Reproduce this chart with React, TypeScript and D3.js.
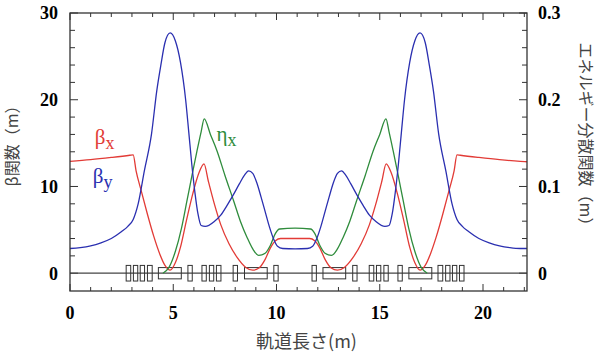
import { useMemo } from 'react';
import * as d3 from 'd3';

// orbit length s (m) and value
const betaX: [number, number][] = [
  [0, 12.9], [1, 13.1], [2, 13.35], [2.9, 13.6], [3.06, 13.65], [3.2, 11.8], [3.45, 9.5],
  [3.75, 6.8], [4.05, 4.3], [4.35, 2.2], [4.6, 0.9], [4.85, 0.35], [5.1, 1.2], [5.35, 3.0],
  [5.65, 6.2], [5.95, 9.2], [6.25, 11.6], [6.49, 12.6], [6.7, 10.6], [7.0, 7.9], [7.3, 5.6],
  [7.7, 3.4], [8.1, 1.8], [8.5, 0.7], [8.85, 0.35], [9.15, 0.6], [9.45, 1.6], [9.7, 2.9],
  [9.95, 3.75], [10.2, 4.0], [10.9, 4.0],
  [11.6, 4.0], [11.85, 3.75], [12.1, 2.9], [12.35, 1.6], [12.65, 0.6], [12.95, 0.35],
  [13.3, 0.7], [13.7, 1.8], [14.1, 3.4], [14.5, 5.6], [14.8, 7.9], [15.1, 10.6], [15.31, 12.6],
  [15.55, 11.6], [15.85, 9.2], [16.15, 6.2], [16.45, 3.0], [16.7, 1.2], [16.95, 0.35],
  [17.2, 0.9], [17.45, 2.2], [17.75, 4.3], [18.05, 6.8], [18.35, 9.5], [18.6, 11.8],
  [18.74, 13.65], [18.9, 13.6], [19.8, 13.35], [20.8, 13.1], [21.8, 12.9], [22.13, 12.85],
];

const betaY: [number, number][] = [
  [0, 2.85], [0.5, 2.95], [1, 3.15], [1.5, 3.5], [2, 4.0], [2.5, 4.8], [2.8, 5.4], [3.06, 6.2],
  [3.3, 8.0], [3.6, 11.8], [3.95, 16.1], [4.2, 21.0], [4.4, 24.0], [4.6, 26.6], [4.85, 27.7],
  [5.1, 26.8], [5.35, 24.3], [5.6, 20.0], [5.75, 16.3], [5.9, 12.5], [6.05, 9.3], [6.2, 6.8],
  [6.35, 5.5], [6.55, 5.4], [7.0, 6.0], [7.3, 6.7], [7.6, 7.8], [7.9, 9.0], [8.2, 10.3],
  [8.45, 11.3], [8.65, 11.8], [8.85, 11.5], [9.05, 10.4], [9.25, 8.8], [9.45, 7.1],
  [9.65, 5.4], [9.85, 4.0], [10.05, 3.1], [10.3, 2.85], [10.9, 2.8],
  [11.5, 2.85], [11.75, 3.1], [11.95, 4.0], [12.15, 5.4], [12.35, 7.1], [12.55, 8.8],
  [12.75, 10.4], [12.95, 11.5], [13.15, 11.8], [13.35, 11.3], [13.6, 10.3], [13.9, 9.0],
  [14.2, 7.8], [14.5, 6.7], [14.8, 6.0], [15.25, 5.4], [15.45, 5.5], [15.6, 6.8], [15.75, 9.3],
  [15.9, 12.5], [16.05, 16.3], [16.2, 20.0], [16.45, 24.3], [16.7, 26.8], [16.95, 27.7],
  [17.2, 26.6], [17.4, 24.0], [17.6, 21.0], [17.85, 16.1], [18.2, 11.8], [18.5, 8.0],
  [18.74, 6.2], [19.0, 5.4], [19.3, 4.8], [19.8, 4.0], [20.3, 3.5], [20.8, 3.15], [21.3, 2.95],
  [21.8, 2.85], [22.13, 2.85],
];

const etaX: [number, number][] = [
  [4.5, 0], [4.8, 0.007], [5.1, 0.025], [5.4, 0.052], [5.66, 0.083], [5.9, 0.112],
  [6.15, 0.141], [6.35, 0.163], [6.5, 0.178], [6.8, 0.16], [7.12, 0.141], [7.5, 0.113],
  [7.93, 0.083], [8.25, 0.06], [8.58, 0.041], [8.85, 0.028], [9.14, 0.0205], [9.45, 0.023],
  [9.7, 0.032], [9.95, 0.046], [10.15, 0.051], [10.9, 0.052],
  [11.65, 0.051], [11.85, 0.046], [12.1, 0.032], [12.35, 0.023], [12.66, 0.0205],
  [12.95, 0.028], [13.22, 0.041], [13.55, 0.06], [13.87, 0.083], [14.3, 0.113], [14.68, 0.141],
  [15.0, 0.16], [15.3, 0.178], [15.45, 0.163], [15.65, 0.141], [15.9, 0.112], [16.14, 0.083],
  [16.4, 0.052], [16.7, 0.025], [17.0, 0.007], [17.3, 0],
];

// magnets on the beam line: quadrupoles and dipoles (start, end in m)
const quads: [number, number][] = [
  [2.72, 2.94], [3.07, 3.28], [3.4, 3.61], [3.75, 3.98], [5.71, 5.92], [6.39, 6.6],
  [6.75, 6.96], [7.09, 7.31], [7.9, 8.11], [9.87, 10.08], [11.72, 11.93], [13.69, 13.9],
  [14.49, 14.71], [14.84, 15.05], [15.2, 15.41], [15.88, 16.09], [17.82, 18.05],
  [18.19, 18.4], [18.52, 18.73], [18.86, 19.08],
];
const dipoles: [number, number][] = [
  [4.28, 5.39], [8.45, 9.55], [12.25, 13.35], [16.41, 17.52],
];

const xLabels = [0, 5, 10, 15, 20];
const xMinor = d3.range(0, 23, 1);
const yLabels = [0, 10, 20, 30];
const yMinor = d3.range(0, 31, 2);
const etaLabels = [0, 0.1, 0.2, 0.3];
const etaMinor = d3.range(0, 0.301, 0.02);

const RED = '#e23b36';
const BLUE = '#2a2fb0';
const GREEN = '#2f8c3c';
const INK = '#333';

export default function App() {
  const margin = { top: 13, right: 73, bottom: 64, left: 70 };
  const width = 600;
  const height = 355;
  const innerW = width - margin.left - margin.right;
  const innerH = height - margin.top - margin.bottom;

  const x = useMemo(() => d3.scaleLinear().domain([0, 22.13]).range([0, innerW]), [innerW]);
  const y = useMemo(() => d3.scaleLinear().domain([-2.05, 30]).range([innerH, 0]), [innerH]);
  const yEta = useMemo(() => d3.scaleLinear().domain([-0.0205, 0.3]).range([innerH, 0]), [innerH]);

  const line = d3
    .line<[number, number]>()
    .x((d) => x(d[0]))
    .y((d) => y(d[1]))
    .curve(d3.curveMonotoneX);
  const lineEta = d3
    .line<[number, number]>()
    .x((d) => x(d[0]))
    .y((d) => yEta(d[1]))
    .curve(d3.curveMonotoneX);

  const tickFont = { fontFamily: '"Liberation Serif", "Times New Roman", serif', fontWeight: 700, fontSize: 18 };
  const titleFont = { fontFamily: '"Noto Sans CJK JP", sans-serif', fontSize: 16, fill: '#444' };
  const symFont = { fontFamily: '"Liberation Serif", serif', fontSize: 21 };

  return (
    <svg width={width} height={height} style={{ position: 'absolute', left: 0, top: 0, background: '#fff' }}>
      <g transform={`translate(${margin.left},${margin.top})`}>
        {/* minor / major ticks */}
        {xMinor.map((v) => (
          <g key={`xt${v}`} stroke={INK} strokeWidth={1}>
            <line x1={x(v)} x2={x(v)} y1={innerH} y2={innerH - (v % 5 === 0 ? 7 : 4)} />
            <line x1={x(v)} x2={x(v)} y1={0} y2={v % 5 === 0 ? 7 : 4} />
          </g>
        ))}
        {yMinor.map((v) => (
          <line key={`yt${v}`} stroke={INK} x1={0} x2={v % 10 === 0 ? 8 : 5} y1={y(v)} y2={y(v)} />
        ))}
        {etaMinor.map((v, i) => (
          <line key={`et${i}`} stroke={INK} x1={innerW} x2={innerW - (i % 5 === 0 ? 8 : 5)} y1={yEta(v)} y2={yEta(v)} />
        ))}

        {/* zero line */}
        <line x1={0} x2={innerW} y1={y(0)} y2={y(0)} stroke="#444" strokeWidth={1.2} />

        {/* magnets */}
        {quads.map(([a, b], i) => (
          <rect key={`q${i}`} x={x(a)} width={x(b) - x(a)} y={y(0.9)} height={y(-0.9) - y(0.9)}
            fill="none" stroke={INK} strokeWidth={1} />
        ))}
        {dipoles.map(([a, b], i) => (
          <rect key={`d${i}`} x={x(a)} width={x(b) - x(a)} y={y(0.65)} height={y(-0.65) - y(0.65)}
            fill="none" stroke={INK} strokeWidth={1} />
        ))}

        {/* curves */}
        <path d={line(betaX)!} fill="none" stroke={RED} strokeWidth={1.3} />
        <path d={lineEta(etaX)!} fill="none" stroke={GREEN} strokeWidth={1.3} />
        <path d={line(betaY)!} fill="none" stroke={BLUE} strokeWidth={1.3} />

        {/* frame */}
        <rect x={0} y={0} width={innerW} height={innerH} fill="none" stroke={INK} strokeWidth={1.3} />

        {/* tick labels */}
        {xLabels.map((v) => (
          <text key={`xl${v}`} x={x(v)} y={innerH + 28} textAnchor="middle" style={tickFont}>{v}</text>
        ))}
        {yLabels.map((v) => (
          <text key={`yl${v}`} x={-12} y={y(v)} dy="0.35em" textAnchor="end" style={tickFont}>{v}</text>
        ))}
        {etaLabels.map((v) => (
          <text key={`el${v}`} x={innerW + 11} y={yEta(v)} dy="0.35em" textAnchor="start" style={tickFont}>{v}</text>
        ))}

        {/* series labels */}
        <text x={x(1.2)} y={y(14.9)} style={symFont} fill={RED}>
          β<tspan dy="5" fontSize={18}>x</tspan>
        </text>
        <text x={x(1.1)} y={y(10.4)} style={symFont} fill={BLUE}>
          β<tspan dy="5" fontSize={18}>y</tspan>
        </text>
        <text x={x(7.1)} y={y(15.2)} style={symFont} fill={GREEN}>
          η<tspan dy="5" fontSize={18}>x</tspan>
        </text>

        {/* axis titles */}
        <text transform={`translate(${-52},${innerH / 2 - 10}) rotate(-90)`} textAnchor="middle" style={titleFont}>
          β関数（m）
        </text>
        <text transform={`translate(${innerW + 53},${innerH / 2 - 14}) rotate(90)`} textAnchor="middle" style={titleFont}>
          エネルギー分散関数（m）
        </text>
        <text x={innerW / 2 + 8} y={innerH + 57} textAnchor="middle" style={{ ...titleFont, fontSize: 18 }}>
          軌道長さ(m)
        </text>
      </g>
    </svg>
  );
}
